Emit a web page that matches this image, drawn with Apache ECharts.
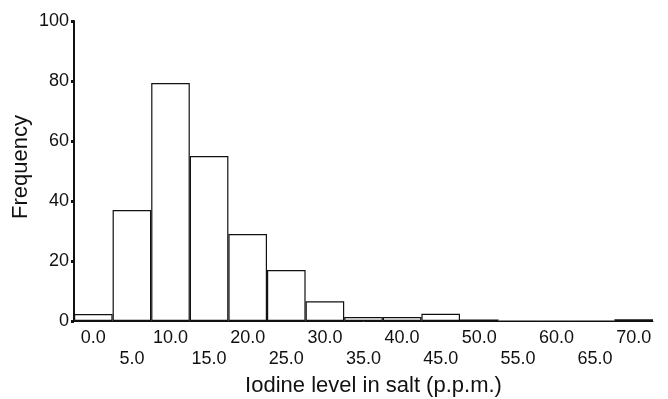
<!DOCTYPE html>
<html>
<head>
<meta charset="utf-8">
<script src="https://cdn.jsdelivr.net/npm/echarts@6/dist/echarts.min.js"></script>
<style>
  html, body {margin: 0; padding: 0; background: #fff;}
  #chart {width: 668px; height: 399px;}
</style>
</head>
<body>
<div id="chart"></div>
<script>
// iodine bins (p.p.m.) and counts
const categories = ['0.0', '5.0', '10.0', '15.0', '20.0', '25.0', '30.0', '35.0',
  '40.0', '45.0', '50.0', '55.0', '60.0', '65.0', '70.0'];
const frequency = [2.3, 37, 79.3, 55, 29, 17, 6.6, 1.3, 1.3, 2.4, 0.5, 0, 0, 0, 0.6];
const yTicks = [0, 20, 40, 60, 80, 100];

const font = 'Liberation Sans, Arial, sans-serif';
const myChart = echarts.init(document.getElementById('chart'));
myChart.setOption({
  animation: false,
  backgroundColor: '#fff',
  grid: {left: 74, right: 15, top: 21, bottom: 78, outerBoundsMode: 'none'},
  xAxis: {
    type: 'category',
    data: categories,
    boundaryGap: true,
    name: 'Iodine level in salt (p.p.m.)',
    nameLocation: 'middle',
    nameGap: 52,
    nameTextStyle: {fontFamily: font, fontSize: 22, color: '#111', padding: [0, 0, 0, 20]},
    axisLine: {lineStyle: {color: '#111', width: 1}},
    axisTick: {
      alignWithLabel: true,
      length: 3,
      lineStyle: {color: '#111', width: 5}
    },
    axisLabel: {
      interval: 0,
      margin: 7,
      fontFamily: font,
      fontSize: 18,
      lineHeight: 21,
      color: '#111',
      formatter(val, idx) {
        return idx % 2 ? '\n' + val : val;
      }
    }
  },
  yAxis: {
    type: 'value',
    min: yTicks[0],
    max: yTicks[yTicks.length - 1],
    interval: 20,
    name: 'Frequency',
    nameLocation: 'middle',
    nameGap: 42,
    nameMoveOverlap: false,
    nameRotate: 90,
    nameTextStyle: {fontFamily: font, fontSize: 22, color: '#111', padding: [0, 0, 0, 8]},
    splitLine: {show: false},
    axisLine: {show: true, lineStyle: {color: '#111', width: 2}},
    axisTick: {show: true, length: 3, lineStyle: {color: '#111', width: 3}},
    axisLabel: {margin: 5, fontFamily: font, fontSize: 18, color: '#111'}
  },
  series: [{
    type: 'bar',
    data: frequency,
    barCategoryGap: 0,
    itemStyle: {color: '#fff', borderColor: '#111', borderWidth: 1.2}
  }]
});
</script>
</body>
</html>
